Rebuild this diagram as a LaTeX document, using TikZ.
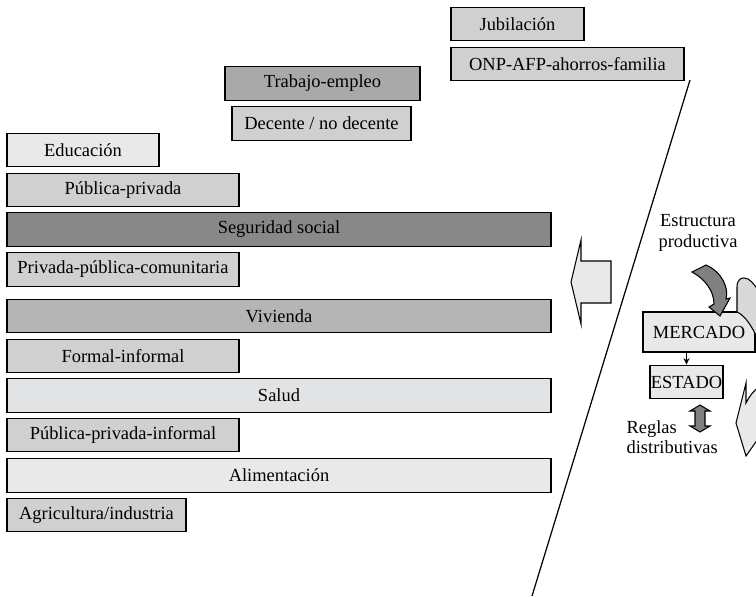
\documentclass[tikz,border=0pt]{standalone}
\usepackage{fontspec}
\setmainfont{Liberation Serif}
\usetikzlibrary{arrows.meta}
\definecolor{gLt}{HTML}{E8E9E8}
\definecolor{gSa}{HTML}{E2E3E5}
\definecolor{gMd}{HTML}{D0D0D0}
\definecolor{gVi}{HTML}{B5B5B5}
\definecolor{gTr}{HTML}{A9A9A9}
\definecolor{gDk}{HTML}{888888}
\definecolor{gLb}{HTML}{D9D9D9}
\definecolor{gAr}{HTML}{808080}
\tikzset{
  >={Stealth[length=1.3mm,width=1.2mm]},
  bx/.style={draw,inner sep=0pt,minimum height=0.67cm,font=\fontsize{10.5}{12.5}\selectfont},
  tx/.style={inner sep=0pt,font=\fontsize{10.5}{11.5}\selectfont},
  every picture/.style={line width=0.7pt},
}
\begin{document}
\begin{tikzpicture}[x=0.02cm,y=-0.02cm]
\clip (0,0) rectangle (756,596);
% left side: sectors and their forms
\node[bx,fill=gMd,minimum width=2.66cm] (jub) at (517.5,24){Jubilación};
\node[bx,fill=gMd,minimum width=4.66cm] (onp) at (567.5,64){ONP-AFP-ahorros-familia};
\node[bx,fill=gTr,minimum width=3.9cm] (trab) at (322.5,83.5){Trabajo-empleo};
\node[bx,fill=gMd,minimum width=3.58cm] (dec) at (321.5,123.5){Decente / no decente};
\node[bx,fill=gLt,minimum width=3.04cm] (edu) at (83,150){Educación};
\node[bx,fill=gMd,minimum width=4.64cm] (pp) at (123,190){Pública-privada};
\node[bx,fill=gDk,minimum width=10.88cm] (seg) at (279,229.5){Seguridad social};
\node[bx,fill=gMd,minimum width=4.64cm] (ppc) at (123,269.5){Privada-pública-comunitaria};
\node[bx,fill=gVi,minimum width=10.88cm] (viv) at (279,316){Vivienda};
\node[bx,fill=gMd,minimum width=4.64cm] (fi) at (123,356){Formal-informal};
\node[bx,fill=gSa,minimum width=10.88cm] (sal) at (279,395.5){Salud};
\node[bx,fill=gMd,minimum width=4.64cm] (ppi) at (123,435){Pública-privada-informal};
\node[bx,fill=gLt,minimum width=10.88cm] (ali) at (279,475.5){Alimentación};
\node[bx,fill=gMd,minimum width=3.58cm] (agr) at (96.5,515){Agricultura/industria};
% dividing line and big arrow
\coordinate (lt) at (690,80); \coordinate (lb) at (532,596);
\draw (lt)--(lb);
\draw[fill=gLt,line width=0.6pt] (571,282)--(581,240)--(581,261)--(611,261)--(611,303)--(581,303)--(581,324)--cycle;
% right side
\node[tx,align=center] (est) at (698,233){Estructura\\productiva};
\node[bx,fill=gLt,minimum width=2.24cm,minimum height=0.8cm] (mer) at (699,332){MERCADO};
\draw[fill=gLb,line width=0.6pt] (737,312)--(737,287) .. controls (737,279) and (742,276) .. (748,279)
  .. controls (753,282) and (757,288) .. (760,294)--(760,344) .. controls (753,328) and (746,316) .. (737,312)--cycle;
\draw[fill=gAr,line width=0.6pt] (692,272)--(706,265) .. controls (722,272) and (729,288) .. (726,299)
  --(730,298)--(720,316)--(709,307)--(714,304) .. controls (714,291) and (705,279) .. (692,272)--cycle;
\node[bx,fill=gLt,minimum width=1.46cm] (sta) at (686.5,382){ESTADO};
\draw[->] (sta.north |- mer.south)--(sta.north);
\draw[fill=gAr,line width=0.6pt] (700,405)--(710,411)--(705,411)--(705,426)--(710,426)--(700,432)
  --(690,426)--(695,426)--(695,411)--(690,411)--cycle;
\node[tx,align=left,anchor=west] (reg) at (626,437){Reglas\\distributivas};
\draw[fill=gLt,line width=0.6pt] (746,383)--(736,423)--(746,456)--(760,436)--(760,386)
  .. controls (753,391) and (749,397) .. (746,403)--cycle;
\end{tikzpicture}
\end{document}
